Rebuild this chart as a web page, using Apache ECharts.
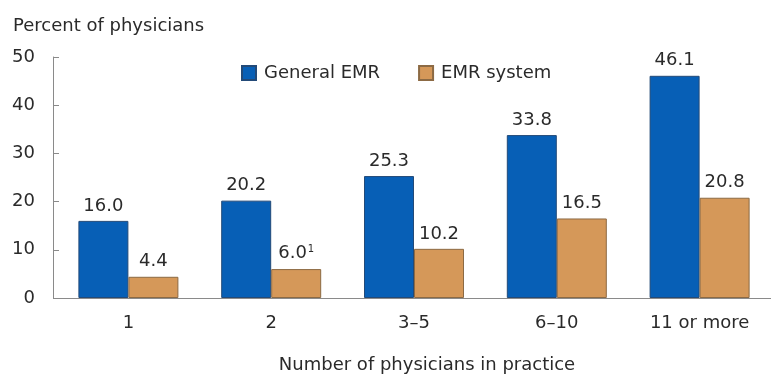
<!DOCTYPE html>
<html>
<head>
<meta charset="utf-8">
<script src="https://cdn.jsdelivr.net/npm/echarts@6/dist/echarts.min.js"></script>
<style>
html,body{margin:0;padding:0;background:#fff;}
#chart{width:771px;height:379px;}
</style>
</head>
<body>
<div id="chart"></div>
<script>
const categories = ['1', '2', '3\u20135', '6\u201310', '11 or more'];
const generalEMR = [16.0, 20.2, 25.3, 33.8, 46.1];
const emrSystem = [4.4, 6.0, 10.2, 16.5, 20.8];
const yTicks = [0, 10, 20, 30, 40, 50];
const footnoted = { series: 'EMR system', index: 1, mark: '1' };

const FONT = 'DejaVu Sans';
const TEXT = '#2a2a2a';

const chart = echarts.init(document.getElementById('chart'), null, { renderer: 'canvas' });

const xData = categories.map((c, i) => i === 3 ? { value: c, textStyle: { padding: [0, 0, 8, 0] } } : c);

const labelCommon = {
  show: true,
  position: 'top',
  distance: 6,
  fontFamily: FONT,
  fontSize: 18,
  color: TEXT,
};

chart.setOption({
  animation: false,
  textStyle: { fontFamily: FONT },
  title: {
    text: 'Percent of physicians',
    left: 8,
    top: 12,
    textStyle: { fontFamily: FONT, fontSize: 18, fontWeight: 'normal', color: TEXT }
  },
  legend: {
    left: 236,
    top: 59,
    itemWidth: 14,
    itemHeight: 14,
    itemGap: 38,
    icon: 'rect',
    textStyle: { fontFamily: FONT, fontSize: 18, color: TEXT, padding: [0, 0, 0, 3] },
    data: ['General EMR', 'EMR system']
  },
  grid: { left: 57, right: -2, top: 57, bottom: 79, containLabel: false },
  xAxis: {
    type: 'category',
    data: xData,
    axisLine: { show: true, lineStyle: { color: '#8a8a8a', width: 1 } },
    axisTick: { show: false },
    axisLabel: { fontFamily: FONT, fontSize: 18, color: TEXT, margin: 16 },
    name: 'Number of physicians in practice',
    nameLocation: 'middle',
    nameGap: 58,
    nameTextStyle: { fontFamily: FONT, fontSize: 18, color: TEXT, padding: [0, 0, 0, 26] }
  },
  yAxis: {
    type: 'value',
    min: yTicks[0],
    max: yTicks[yTicks.length - 1],
    interval: yTicks[1] - yTicks[0],
    offset: 4,
    axisLine: { show: true, lineStyle: { color: '#8a8a8a', width: 1 } },
    axisTick: { show: true, inside: true, length: 6, lineStyle: { color: '#8a8a8a' } },
    axisLabel: { fontFamily: FONT, fontSize: 18, color: TEXT, margin: 18 },
    splitLine: { show: false }
  },
  series: [
    {
      name: 'General EMR',
      type: 'bar',
      data: generalEMR,
      barWidth: 50,
      barGap: '0%',
      itemStyle: { color: '#075fb6', borderColor: '#234a78', borderWidth: 1 },
      label: Object.assign({}, labelCommon, {
        formatter: p => p.value.toFixed(1)
      })
    },
    {
      name: 'EMR system',
      type: 'bar',
      data: emrSystem,
      barWidth: 50,
      barGap: '0%',
      itemStyle: { color: '#d59859', borderColor: '#8c6a44', borderWidth: 1 },
      label: Object.assign({}, labelCommon, {
        formatter: p => {
          const v = p.value.toFixed(1);
          return (p.seriesName === footnoted.series && p.dataIndex === footnoted.index)
            ? v + '{sup|' + footnoted.mark + '}' : v;
        },
        rich: {
          sup: { fontFamily: FONT, fontSize: 10, color: TEXT, padding: [0, 0, 9, 1] }
        }
      })
    }
  ]
});
</script>
</body>
</html>
